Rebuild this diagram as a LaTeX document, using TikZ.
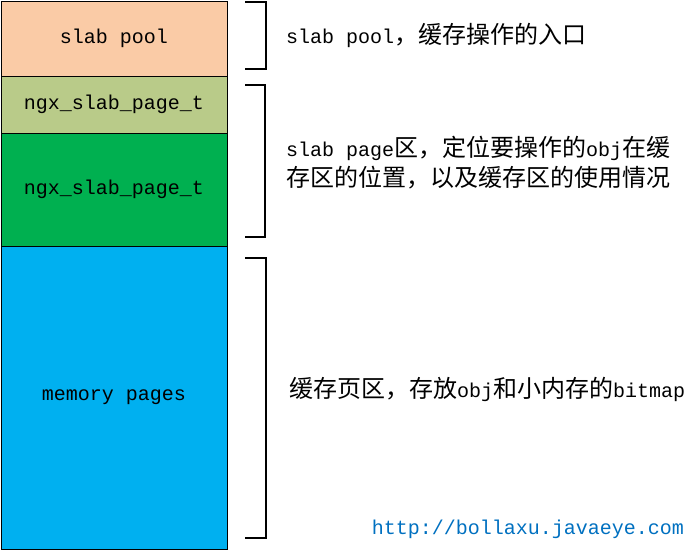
\documentclass[tikz,border=0pt]{standalone}
\usepackage{fontspec}
\setmainfont{Liberation Mono}
\newfontfamily\cjkfont{Noto Sans CJK SC}[Scale=1.2]
\newcommand{\zh}[1]{{\cjkfont #1}}
\usepackage{tikz}
\usetikzlibrary{positioning}
\definecolor{peach}{RGB}{250, 203, 166}
\definecolor{olive}{RGB}{185, 203, 137}
\definecolor{grass}{RGB}{0, 176, 80}
\definecolor{sky}{RGB}{0, 176, 240}
\definecolor{linkblue}{RGB}{0, 112, 192}

\begin{document}
\begin{tikzpicture}[x=1pt, y=-1pt,
    block/.style={draw, line width=1pt, minimum width=226pt, inner sep=0pt, outer sep=0pt,
                  font=\fontsize{20pt}{30pt}\selectfont},
    note/.style={anchor=west, align=left, inner sep=0pt, font=\fontsize{20pt}{30pt}\selectfont},
    brace/.style={line width=2.5pt}]
            \useasboundingbox (0, 0) rectangle (688, 550);
            % Memory layout
            \node[block, fill=peach, minimum height=75pt]  (pool)  at (114, 38.5) {slab pool};
            \node[block, fill=olive, minimum height=57pt]  (page1) [below=0pt of pool]  {ngx\_slab\_page\_t};
            \node[block, fill=grass, minimum height=113pt] (page2) [below=0pt of page1] {ngx\_slab\_page\_t};
            \node[block, fill=sky,   minimum height=303pt] (mem)   [below=0pt of page2] {memory pages};
            % Brackets
            \draw[brace] (245,   2) -- (266,   2) -- (266,  69) -- (245,  69);
            \draw[brace] (245,  85) -- (265,  85) -- (265, 237) -- (245, 237);
            \draw[brace] (245, 258) -- (266, 258) -- (266, 538) -- (245, 538);
            % Notes
            \node[note] (poolnote) at (286,  35) {slab pool\zh{，缓存操作的入口}};
            \node[note] (pagenote) at (286, 163) {slab page\zh{区，定位要操作的}obj\zh{在缓}\\\zh{存区的位置，以及缓存区的使用情况}};
            \node[note] (memnote)  at (289, 389) {\zh{缓存页区，存放}obj\zh{和小内存的}bitmap};
            \node[note, anchor=east, text=linkblue] (link) at (684, 529) {http://bollaxu.javaeye.com};
        \end{tikzpicture}
\end{document}
